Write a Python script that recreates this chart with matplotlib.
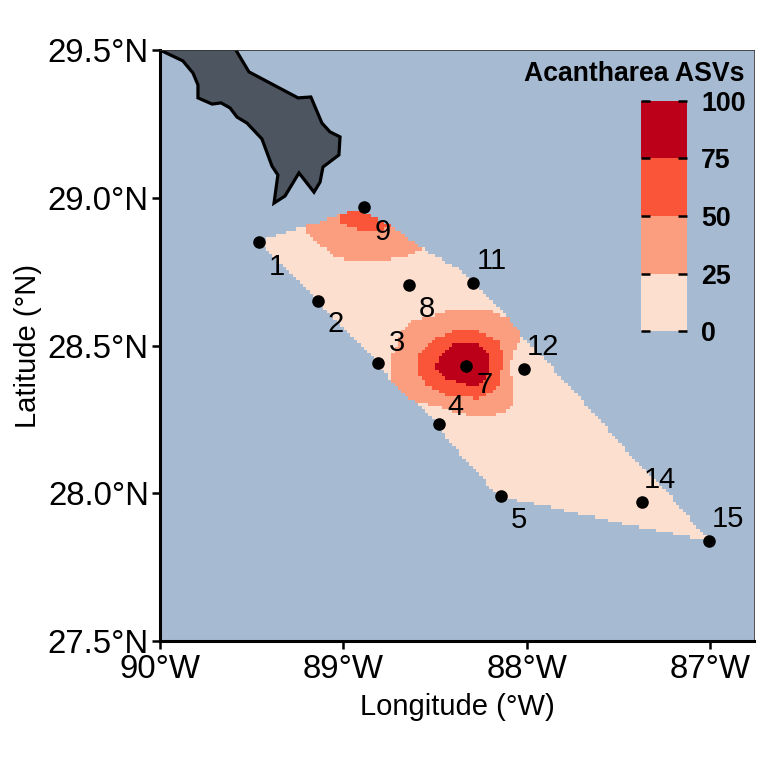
import matplotlib
matplotlib.use("Agg")
import matplotlib.pyplot as plt
import numpy as np
from matplotlib.colors import ListedColormap, BoundaryNorm
from matplotlib.path import Path

plt.rcParams['font.family'] = ['Liberation Sans', 'DejaVu Sans']

# stations
station_ids = [1, 2, 3, 4, 5, 7, 8, 9, 11, 12, 14, 15]
station_lon = [-89.46, -89.14, -88.81, -88.48, -88.14, -88.33, -88.64, -88.89, -88.29, -88.015, -87.37, -87.007]
station_lat = [28.85, 28.65, 28.44, 28.234, 27.99, 28.43, 28.705, 28.97, 28.71, 28.42, 27.97, 27.84]
# label offset from the dot, in pixels
label_dx = [18, 18, 19, 17, 18, 18, 18, 19, 18, 19, 18, 19]
label_dy = [-25, -23, 20, 17, -24, -19, -24, -25, 22, 22, 22, 22]

# coast
land_lon = [-90.0, -89.875, -89.82, -89.793, -89.793, -89.716, -89.667, -89.618, -89.58, -89.526, -89.444,
            -89.389, -89.357, -89.378, -89.318, -89.242, -89.16, -89.127, -89.111, -89.024, -89.018, -89.073,
            -89.117, -89.177, -89.247, -89.515, -89.586, -89.58, -90.0]
land_lat = [29.5, 29.463, 29.422, 29.382, 29.338, 29.317, 29.321, 29.304, 29.273, 29.253, 29.199,
            29.107, 29.077, 28.982, 29.006, 29.084, 29.019, 29.053, 29.104, 29.145, 29.206, 29.223,
            29.253, 29.341, 29.338, 29.426, 29.5, 29.56, 29.56]

# outline of the interpolated area
hull_lon = [-89.46, -89.427, -89.329, -89.22, -89.111, -89.018, -88.948, -88.893, -88.817, -88.746, -88.571,
            -88.473, -88.364, -88.255, -88.146, -88.037, -87.699, -87.584, -87.437, -87.29, -87.181, -87.072,
            -87.007, -87.126, -87.421, -87.639, -87.928, -88.108, -88.146, -88.293, -88.419, -88.484, -88.637,
            -88.746, -88.811, -89.14]
hull_lat = [28.85, 28.86, 28.881, 28.901, 28.921, 28.945, 28.955, 28.952, 28.931, 28.908, 28.83,
            28.796, 28.756, 28.688, 28.627, 28.542, 28.316, 28.238, 28.129, 28.035, 27.967, 27.886,
            27.84, 27.855, 27.889, 27.92, 27.96, 27.981, 27.987, 28.085, 28.173, 28.234, 28.322,
            28.383, 28.44, 28.65]

# 25 contour, central patch
mid25_lon = [-88.746, -88.735, -88.664, -88.528, -88.326, -88.228, -88.119, -88.064, -88.064, -88.091, -88.081,
             -88.053, -88.026, -88.037, -88.102, -88.201, -88.419, -88.609, -88.675, -88.708]
mid25_lat = [28.461, 28.383, 28.322, 28.299, 28.265, 28.258, 28.272, 28.299, 28.36, 28.417, 28.458,
             28.495, 28.536, 28.552, 28.593, 28.617, 28.617, 28.586, 28.552, 28.502]
# 50 contour, central patch
mid50_lon = [-88.593, -88.593, -88.539, -88.419, -88.255, -88.173, -88.157, -88.135, -88.135, -88.157, -88.282,
             -88.364, -88.511, -88.555]
mid50_lat = [28.468, 28.407, 28.36, 28.326, 28.322, 28.349, 28.366, 28.427, 28.485, 28.519, 28.556,
             28.556, 28.519, 28.495]
# 75 contour, central patch
mid75_lon = [-88.495, -88.484, -88.43, -88.348, -88.299, -88.244, -88.201, -88.201, -88.217, -88.255, -88.402, -88.462]
mid75_lat = [28.434, 28.407, 28.383, 28.373, 28.36, 28.373, 28.417, 28.451, 28.478, 28.502, 28.502, 28.475]

# north patch near station 9
north25_lon = [-89.22, -89.193, -89.127, -89.035, -88.926, -88.8, -88.675, -88.599, -88.571, -88.746, -88.817,
               -88.893, -88.948, -89.018, -89.111]
north25_lat = [28.901, 28.881, 28.84, 28.8, 28.783, 28.786, 28.8, 28.816, 28.83, 28.908, 28.931,
               28.952, 28.955, 28.945, 28.921]
north50_lon = [-89.024, -89.018, -88.948, -88.839, -88.746, -88.746, -88.817, -88.893, -88.948, -89.018]
north50_lat = [28.942, 28.918, 28.898, 28.884, 28.898, 28.908, 28.931, 28.952, 28.955, 28.945]

legend_levels = [0, 25, 50, 75, 100]
legend_colors = ['#fddfcf', '#fb9e7f', '#fb5539', '#bd0019']
ocean_color = '#a6bad2'
land_color = '#4d5560'

cmap = ListedColormap(legend_colors)
norm = BoundaryNorm(legend_levels, cmap.N)

fig = plt.figure(figsize=(7.68, 7.68), dpi=100)
ax = fig.add_axes([160 / 768, (768 - 641) / 768, (754 - 160) / 768, (641 - 50) / 768])
ax.set_facecolor(ocean_color)


def inside(lons, lats, glon, glat):
    pts = np.column_stack([glon.ravel(), glat.ravel()])
    return Path(np.column_stack([lons, lats])).contains_points(pts).reshape(glon.shape)


# blocky raster like the original interpolation grid
glon, glat = np.meshgrid(np.arange(-89.47, -86.99, 0.0185), np.arange(27.83, 28.97, 0.0112))
grid = np.full(glon.shape, 12.5)
grid[inside(mid25_lon, mid25_lat, glon, glat) | inside(north25_lon, north25_lat, glon, glat)] = 37.5
grid[inside(mid50_lon, mid50_lat, glon, glat) | inside(north50_lon, north50_lat, glon, glat)] = 62.5
grid[inside(mid75_lon, mid75_lat, glon, glat)] = 87.5
grid = np.ma.masked_where(~inside(hull_lon, hull_lat, glon, glat), grid)
ax.pcolormesh(glon, glat, grid, cmap=cmap, norm=norm, shading='nearest', zorder=1)

ax.fill(land_lon, land_lat, facecolor=land_color, edgecolor='black', linewidth=2.3, zorder=2)
ax.scatter(station_lon, station_lat, s=82, color='black', linewidths=0, zorder=3)
for sid, lon, lat, dx, dy in zip(station_ids, station_lon, station_lat, label_dx, label_dy):
    ax.annotate(str(sid), (lon, lat), xytext=(dx * 0.72, dy * 0.72), textcoords='offset points',
                ha='center', va='center', fontsize=21, color='black', zorder=4)

ax.set_xlim(-90, -86.76)
ax.set_ylim(27.5, 29.5)
ax.set_xticks([-90, -89, -88, -87])
ax.set_xticklabels(['90°W', '89°W', '88°W', '87°W'])
ax.set_yticks([27.5, 28, 28.5, 29, 29.5])
ax.set_yticklabels(['27.5°N', '28.0°N', '28.5°N', '29.0°N', '29.5°N'])
ax.tick_params(length=6, width=1.8, labelsize=23.8, pad=2, color='black')
ax.tick_params(axis='x', pad=3.5)
ax.set_xlabel('Longitude (°W)', fontsize=21, labelpad=5.5)
ax.set_ylabel('Latitude (°N)', fontsize=21, labelpad=4)
for side in ['left', 'bottom']:
    ax.spines[side].set_linewidth(2.2)
for side in ['top', 'right']:
    ax.spines[side].set_linewidth(0.6)
    ax.spines[side].set_color('#333333')

# legend
cax = fig.add_axes([641 / 768, (768 - 331) / 768, 46 / 768, 230 / 768])
cax.pcolormesh([0, 1], legend_levels, np.array([[12.5], [37.5], [62.5], [87.5]]), cmap=cmap, norm=norm)
cax.set_xticks([])
cax.set_yticks(legend_levels)
cax.set_ylim(0, 100)
cax.tick_params(axis='y', direction='in', left=True, right=True, labelleft=False, labelright=True,
                length=6.5, width=1.8, labelsize=19.3, pad=10)
for lab in cax.get_yticklabels():
    lab.set_fontweight('bold')
for sp in cax.spines.values():
    sp.set_visible(False)
for t in cax.yaxis.get_major_ticks():
    t.tick1line.set_clip_on(False)
    t.tick2line.set_clip_on(False)
fig.text(745 / 768, (768 - 74) / 768, 'Acantharea ASVs', ha='right', va='center',
         fontsize=19.2, fontweight='bold')

fig.savefig('out.png', dpi=100)
